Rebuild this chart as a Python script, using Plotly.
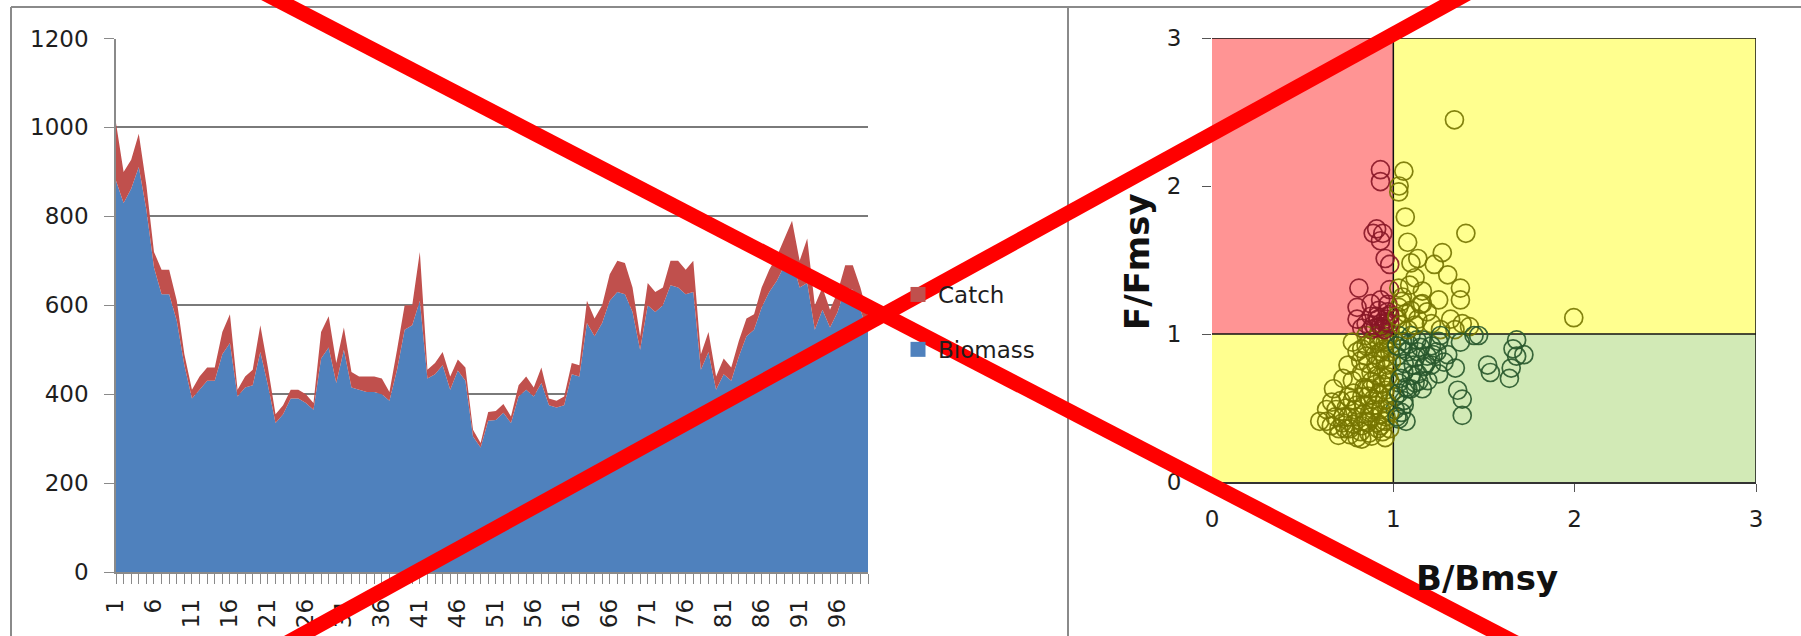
import plotly.graph_objects as go

W, H = 1801, 636
FONT = "DejaVu Sans"

# ---- stock time series (left panel) ----
years = list(range(1, 101))
biomass = [880, 830, 862, 911, 815, 685, 625, 625, 565, 465,
           390, 410, 430, 430, 490, 515, 395, 415, 420, 495,
           420, 335, 355, 390, 390, 380, 365, 480, 505, 425,
           500, 415, 410, 405, 405, 400, 385, 455, 545, 555,
           610, 435, 445, 465, 410, 453, 430, 305, 280, 340,
           342, 358, 335, 395, 410, 395, 425, 375, 370, 375,
           445, 440, 560, 530, 560, 610, 630, 625, 585, 500,
           600, 585, 600, 645, 640, 625, 630, 455, 495, 410,
           445, 430, 485, 530, 545, 595, 630, 655, 690, 700,
           640, 650, 545, 590, 550, 585, 640, 635, 590, 540]
catch = [130, 70, 65, 75, 55, 35, 55, 55, 45, 25,
         20, 30, 30, 30, 50, 65, 15, 25, 35, 60,
         40, 20, 20, 20, 20, 20, 15, 60, 70, 45,
         50, 35, 30, 35, 35, 35, 20, 45, 55, 45,
         110, 20, 25, 30, 30, 25, 30, 15, 10, 20,
         20, 20, 15, 25, 30, 20, 35, 15, 15, 20,
         25, 25, 50, 40, 40, 60, 70, 70, 55, 30,
         50, 45, 40, 55, 60, 55, 70, 35, 45, 30,
         35, 30, 35, 40, 35, 45, 50, 55, 60, 90,
         60, 100, 55, 50, 40, 45, 50, 55, 50, 35]
year_labels = [str(y) if (y - 1) % 5 == 0 else "" for y in years]

# ---- Kobe phase plot (right panel) ----
b_ratio = [1.337, 0.929, 0.929, 1.058, 1.032, 1.03, 1.066, 1.40, 0.908, 0.942,
           0.889, 0.929, 1.079, 0.955, 0.98, 1.27, 1.135, 1.097, 1.226, 1.30,
           1.12, 0.81, 0.98, 1.03, 1.37, 1.16, 1.25, 0.80, 0.877, 0.93,
           1.045, 1.097, 1.37, 1.187, 1.316, 1.38, 1.42, 1.47, 0.877, 0.916,
           0.955, 0.98, 0.826, 0.85, 0.94, 0.97, 1.019, 1.07, 1.135, 1.21,
           1.26, 1.34, 1.995, 1.03, 1.16,
           1.68, 1.66, 1.72, 1.68, 1.52, 1.535, 1.65, 1.64, 1.37, 1.342,
           1.355, 1.38, 1.38, 1.445, 1.26, 1.24, 1.21, 1.25, 1.19, 1.16,
           1.097, 1.058, 1.045, 1.07, 1.03, 1.135, 1.084, 1.045, 1.11, 1.058,
           1.135, 1.03, 1.187, 1.16, 1.097, 1.03, 1.02, 1.07, 1.12, 1.21,
           1.28, 1.17, 1.01, 1.01,
           0.594, 0.632, 0.658, 0.697, 0.723, 0.723, 0.67, 0.75, 0.787, 0.80,
           0.826, 0.761, 0.865, 0.877, 0.839, 0.774, 0.826, 0.85, 0.89, 0.93,
           0.955, 0.955, 0.916, 0.774, 0.80, 0.85, 0.877, 0.903, 0.93, 0.955,
           0.968, 0.94, 0.877, 0.903, 0.955, 0.968, 0.826, 0.75, 0.71, 0.632,
           0.735, 0.826, 0.98, 0.98, 0.98, 0.98, 0.85, 0.80, 0.75, 0.684,
           0.93, 0.89, 0.877, 0.916, 0.85, 0.955, 0.916, 0.826, 0.774, 0.98,
           0.93, 0.90, 0.955, 0.877, 0.968, 0.80, 0.98,
           0.92, 0.95, 0.90, 0.93, 0.96, 0.91, 0.94, 0.88, 0.92, 0.95,
           0.90, 0.93, 0.87, 0.96, 0.91, 0.86, 0.94, 0.88, 0.82, 0.78,
           0.72, 0.68, 0.70, 0.76, 0.84, 0.80, 0.74, 0.66, 0.78, 0.84,
           0.86, 0.82, 0.97, 0.89, 0.85, 0.99, 0.99, 0.97, 0.99, 0.86,
           1.05, 1.08, 1.12, 1.15, 1.06, 1.10, 1.18, 1.22, 1.04, 1.08,
           1.14, 1.03, 1.06, 1.02, 1.25, 1.30, 1.13, 1.02,
           0.93, 0.96, 0.91, 0.95, 0.98, 0.89, 0.97, 0.92,
           1.04, 1.08, 1.02, 1.12, 1.05, 1.15, 1.09]
f_ratio = [2.447, 2.11, 2.03, 2.10, 2.00, 1.96, 1.79, 1.68, 1.71, 1.68,
           1.68, 1.63, 1.62, 1.51, 1.47, 1.55, 1.51, 1.48, 1.47, 1.40,
           1.38, 1.31, 1.30, 1.31, 1.31, 1.29, 1.23, 1.18, 1.205, 1.23,
           1.22, 1.16, 1.23, 1.15, 1.10, 1.07, 1.05, 0.99, 1.12, 1.10,
           1.07, 1.12, 1.04, 1.07, 1.04, 1.015, 1.10, 1.14, 1.10, 1.07,
           1.03, 1.03, 1.11, 1.18, 1.205,
           0.96, 0.90, 0.86, 0.85, 0.79, 0.74, 0.77, 0.70, 0.945, 0.77,
           0.62, 0.56, 0.45, 0.99, 0.99, 0.88, 0.79, 0.73, 0.685, 0.63,
           0.63, 0.55, 0.47, 0.41, 0.425, 0.88, 0.93, 0.90, 0.79, 0.74,
           0.73, 0.67, 0.85, 0.96, 0.99, 0.99, 0.85, 0.64, 0.67, 0.92,
           0.81, 0.78, 0.575, 0.49,
           0.41, 0.49, 0.38, 0.315, 0.44, 0.70, 0.63, 0.575, 0.49, 0.30,
           0.38, 0.36, 0.33, 0.44, 0.52, 0.685, 0.74, 0.63, 0.56, 0.49,
           0.30, 0.41, 0.36, 0.945, 0.88, 0.85, 0.93, 0.79, 0.88, 0.945,
           0.79, 0.71, 0.74, 0.66, 0.62, 0.53, 0.90, 0.79, 0.55, 0.41,
           0.36, 0.29, 0.36, 0.47, 0.685, 0.88, 0.41, 0.44, 0.44, 0.49,
           0.38, 0.49, 0.63, 0.99, 0.99, 0.84, 0.59, 0.575, 0.55, 1.0,
           1.07, 1.04, 1.10, 1.03, 1.15, 1.10, 1.07,
           0.95, 0.90, 0.86, 0.82, 0.76, 0.72, 0.66, 0.68, 0.60, 0.55,
           0.52, 0.45, 0.47, 0.44, 0.40, 0.40, 0.34, 0.31, 0.34, 0.39,
           0.40, 0.44, 0.36, 0.32, 0.46, 0.52, 0.50, 0.54, 0.60, 0.64,
           0.80, 0.82, 0.97, 0.96, 0.92, 0.93, 0.81, 0.71, 0.60, 0.58,
           0.95, 0.88, 0.84, 0.91, 0.80, 0.72, 0.80, 0.86, 0.70, 0.63,
           0.68, 0.60, 0.52, 0.44, 0.95, 0.86, 0.96, 0.92,
           1.05, 1.08, 1.12, 1.03, 1.13, 1.06, 1.20, 1.16,
           1.06, 1.03, 1.12, 1.06, 1.25, 1.20, 1.33]

B_REF, F_REF, KOBE_MAX = 1.0, 1.0, 3.0

C_BIOMASS = "#4F81BD"
C_CATCH = "#C0504D"
Z_RED, Z_YELLOW, Z_GREEN = "#FF9494", "#FFFF8F", "#D2EAB6"


def zone_color(b, f):
    if b < B_REF and f > F_REF:
        return "rgba(135,22,38,0.9)"
    if b > B_REF and f < F_REF:
        return "rgba(40,88,44,0.9)"
    return "rgba(118,116,0,0.9)"


def px(x):
    return x / W


def py(y):
    return 1 - y / H


fig = go.Figure()

fig.add_trace(go.Scatter(x=years, y=biomass, name="Biomass", stackgroup="s",
                         mode="none", fillcolor=C_BIOMASS, showlegend=False,
                         xaxis="x", yaxis="y"))
fig.add_trace(go.Scatter(x=years, y=catch, name="Catch", stackgroup="s",
                         mode="none", fillcolor=C_CATCH, showlegend=False,
                         xaxis="x", yaxis="y"))
# square legend keys
fig.add_trace(go.Scatter(x=[None], y=[None], name="Catch", mode="markers",
                         marker=dict(symbol="square", size=15, color=C_CATCH),
                         legendgroup="c", xaxis="x", yaxis="y"))
fig.add_trace(go.Scatter(x=[None], y=[None], name="Biomass", mode="markers",
                         marker=dict(symbol="square", size=15, color=C_BIOMASS),
                         legendgroup="b", xaxis="x", yaxis="y"))

fig.add_trace(go.Scatter(
    x=b_ratio, y=f_ratio, mode="markers", showlegend=False,
    marker=dict(symbol="circle-open", size=18,
                color=[zone_color(b, f) for b, f in zip(b_ratio, f_ratio)],
                line=dict(width=1.7)),
    xaxis="x2", yaxis="y2"))

tick_font = dict(family=FONT, size=23, color="#1e1e1e")

shapes = [
    dict(type="rect", xref="x2", yref="y2", x0=0, x1=B_REF, y0=F_REF, y1=KOBE_MAX,
         fillcolor=Z_RED, line_width=0, layer="below"),
    dict(type="rect", xref="x2", yref="y2", x0=B_REF, x1=KOBE_MAX, y0=F_REF, y1=KOBE_MAX,
         fillcolor=Z_YELLOW, line_width=0, layer="below"),
    dict(type="rect", xref="x2", yref="y2", x0=0, x1=B_REF, y0=0, y1=F_REF,
         fillcolor=Z_YELLOW, line_width=0, layer="below"),
    dict(type="rect", xref="x2", yref="y2", x0=B_REF, x1=KOBE_MAX, y0=0, y1=F_REF,
         fillcolor=Z_GREEN, line_width=0, layer="below"),
]
for x0, x1, y0, y1 in [(B_REF, B_REF, 0, KOBE_MAX), (KOBE_MAX, KOBE_MAX, 0, KOBE_MAX),
                       (0, KOBE_MAX, F_REF, F_REF), (0, KOBE_MAX, KOBE_MAX, KOBE_MAX)]:
    shapes.append(dict(type="line", xref="x2", yref="y2", x0=x0, x1=x1, y0=y0, y1=y1,
                       line=dict(color="#111111", width=1.5), layer="below"))

# panel frames
frame = dict(color="#8a8a8a", width=2)
shapes += [
    dict(type="line", xref="paper", yref="paper", x0=px(11), x1=1, y0=py(7), y1=py(7), line=frame),
    dict(type="line", xref="paper", yref="paper", x0=px(11), x1=px(11), y0=py(7), y1=0, line=frame),
    dict(type="line", xref="paper", yref="paper", x0=px(1068), x1=px(1068), y0=py(7), y1=0, line=frame),
]

# red cross drawn over the whole figure
cross = dict(color="#FF0000", width=15)
shapes += [
    dict(type="line", xref="paper", yref="paper", x0=px(262), y0=py(-8), x1=px(1518), y1=py(644),
         line=cross, layer="above"),
    dict(type="line", xref="paper", yref="paper", x0=px(1470), y0=py(-8), x1=px(285), y1=py(644),
         line=cross, layer="above"),
]

fig.update_layout(
    width=W, height=H, autosize=False,
    margin=dict(l=0, r=0, t=0, b=0, pad=0, autoexpand=False),
    paper_bgcolor="white", plot_bgcolor="white",
    font=dict(family=FONT, size=23, color="#1e1e1e"),
    showlegend=True,
    legend=dict(x=px(898), y=py(273), xanchor="left", yanchor="top",
                bgcolor="rgba(0,0,0,0)", font=dict(family=FONT, size=23, color="#1e1e1e"),
                traceorder="grouped", tracegroupgap=22, itemwidth=30),
    xaxis=dict(domain=[px(116), px(868)], range=[1, 100], anchor="y", automargin=False,
               tickmode="array", tickvals=years, ticktext=year_labels,
               tickangle=-90, tickfont=tick_font, ticks="outside", ticklen=10,
               tickcolor="#8a8a8a", showline=True, linecolor="#8a8a8a", linewidth=1.5,
               showgrid=False, zeroline=False, ticklabelstandoff=6),
    yaxis=dict(domain=[py(572), py(38.5)], range=[0, 1200], dtick=200, anchor="x",
               automargin=False,
               tickfont=tick_font, ticks="outside", ticklen=10, tickcolor="#8a8a8a",
               showline=True, linecolor="#8a8a8a", linewidth=1.5,
               showgrid=True, gridcolor="#7a7a7a", gridwidth=1.5, zeroline=False,
               ticklabelstandoff=11),
    xaxis2=dict(domain=[px(1212), px(1756)], range=[0, KOBE_MAX], dtick=1, anchor="y2",
                automargin=False,
                tickfont=tick_font, ticks="outside", ticklen=8, tickcolor="#555555",
                showline=True, linecolor="#333333", linewidth=1.5,
                showgrid=False, zeroline=False, ticklabelstandoff=8),
    yaxis2=dict(domain=[py(482), py(38)], range=[0, KOBE_MAX], dtick=1, anchor="x2",
                automargin=False,
                tickfont=tick_font, ticks="outside", ticklen=9, tickcolor="#555555",
                showline=False, showgrid=False, zeroline=False, ticklabelstandoff=16),
    shapes=shapes,
    annotations=[
        dict(text="F/Fmsy", xref="paper", yref="paper", x=px(1137), y=py(262),
             xanchor="center", yanchor="middle", textangle=-90, showarrow=False,
             font=dict(family=FONT, size=34, color="#111111", weight="bold")),
        dict(text="B/Bmsy", xref="paper", yref="paper", x=px(1487), y=py(578),
             xanchor="center", yanchor="middle", showarrow=False,
             font=dict(family=FONT, size=34, color="#111111", weight="bold")),
    ],
)

fig.write_html(
    "out.html",
    config={"responsive": False},
    post_script="document.body.style.margin='0';document.body.style.overflow='hidden';",
)
